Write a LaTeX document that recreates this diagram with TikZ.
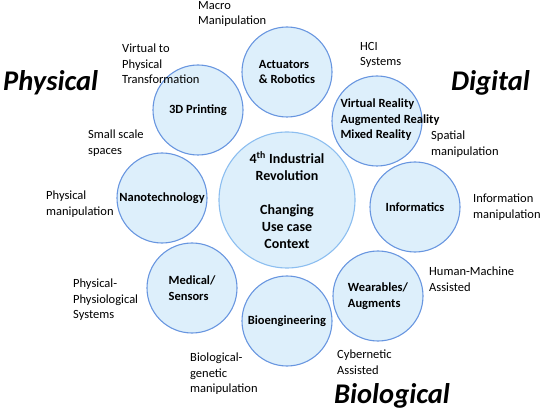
\documentclass[tikz,border=0pt]{standalone}
\usepackage{fontspec}
\setmainfont{Carlito}
\definecolor{discfill}{RGB}{221,239,251}
\definecolor{discline}{RGB}{104,150,224}
\definecolor{hubline}{RGB}{140,190,240}
\tikzset{
  disc/.style={circle, draw=discline, fill=discfill, line width=1.1pt, minimum size=90pt, inner sep=0pt, align=left, font=\bfseries\fontsize{12.5}{15.5}\selectfont},
  hub/.style={disc, draw=hubline, minimum size=136pt, align=center, font=\bfseries\fontsize{14}{17}\selectfont},
  disctext/.style={inner sep=0pt, align=left, font=\bfseries\fontsize{12.5}{15.5}\selectfont},
  note/.style={anchor=north west, inner sep=0pt, align=left, font=\fontsize{12.5}{15.5}\selectfont},
  realm/.style={anchor=base west, inner sep=0pt, font=\bfseries\itshape\fontsize{28.5}{34}\selectfont}
}
\begin{document}
\begin{tikzpicture}[x=1pt, y=-1pt]
    \useasboundingbox (0,0) rectangle (542,412);

    % Central circle
    \node[hub] (hub) at (287,200) {4\textsuperscript{th} Industrial\\Revolution\\[17pt]Changing\\Use case\\Context};

    % Surrounding circles
    \node[disc] (actuators) at (287,72) {Actuators\\\& Robotics};
    \node[disc] (printing) at (198,110) {3D Printing};
    \node[disc] (nano) at (162,198) {Nanotechnology};
    \node[disc] (medical) at (192,288) {Medical/\\Sensors};
    \node[disc] (bio) at (287,321) {Bioengineering};
    \node[disc] (wearables) at (378,296) {Wearables/\\Augments};
    \node[disc] (informatics) at (415,207) {Informatics};
    \node[disc] (vr) at (377,121) {};
    \node[disctext] (vrtext) at (390,120) {Virtual Reality\\Augmented Reality\\Mixed Reality};

    % Use case notes (top left corner of each text)
    \node[note] (macro) at (198,1) {Macro\\Manipulation};
    \node[note] (virtual) at (122,44) {Virtual to\\Physical\\Transformation};
    \node[note] (small) at (88,130) {Small scale\\spaces};
    \node[note] (physmanip) at (46,191) {Physical\\manipulation};
    \node[note] (physio) at (73,279) {Physical-\\Physiological\\Systems};
    \node[note] (genetic) at (190,353) {Biological-\\genetic\\manipulation};
    \node[note] (cyber) at (337,350) {Cybernetic\\Assisted};
    \node[note] (human) at (429,267) {Human-Machine\\Assisted};
    \node[note] (infomanip) at (473,194) {Information\\manipulation};
    \node[note] (spatial) at (431,131) {Spatial\\manipulation};
    \node[note] (hci) at (360,42) {HCI\\Systems};

    % Realms
    \node[realm] (physical) at (3,91) {Physical};
    \node[realm] (digital) at (451,91) {Digital};
    \node[realm] (biological) at (334,403) {Biological};
\end{tikzpicture}
\end{document}
